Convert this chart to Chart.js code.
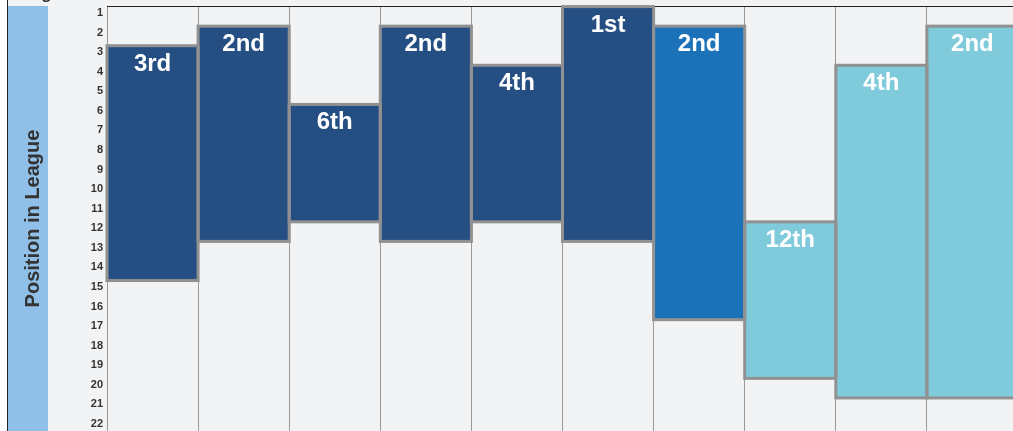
<!DOCTYPE html>
<html>
<head>
<meta charset="utf-8">
<script src="https://cdn.jsdelivr.net/npm/chart.js@4.4.1/dist/chart.umd.min.js"></script>
<style>
  html, body { margin: 0; padding: 0; background: #f2f3f5; overflow: hidden; }
  #wrap { position: relative; width: 1013px; height: 431px; overflow: hidden; }
  #chartBox { position: absolute; left: 0; top: 0; width: 1018px; height: 431px; }
  #topText { position: absolute; left: 12px; top: -15px; font: bold 17px "Liberation Sans", Arial, sans-serif; line-height: 17px; color: #333; }
</style>
</head>
<body>
<div id="wrap">
  <div id="chartBox"><canvas id="myChart"></canvas></div>
  <div id="topText">League</div>
</div>
<script>
'use strict';

// ****Data****
let seasons = ['Season 1', 'Season 2', 'Season 3', 'Season 4', 'Season 5', 'Season 6', 'Season 7', 'Season 8', 'Season 9', 'Season 10'];
let bestPos = [2.67, 1.67, 5.67, 1.67, 3.67, 0.67, 1.67, 11.67, 3.67, 1.67];
let worstPos = [14.67, 12.67, 11.67, 12.67, 11.67, 12.67, 16.67, 19.67, 20.67, 20.67];
let finishLabels = ['3rd', '2nd', '6th', '2nd', '4th', '1st', '2nd', '12th', '4th', '2nd'];
let barColors = ['#254f82', '#254f82', '#254f82', '#254f82', '#254f82', '#254f82', '#1c72b9', '#80cbdb', '#80cbdb', '#80cbdb'];
let yTicks = [1, 2, 3, 4, 5, 6, 7, 8, 9, 10, 11, 12, 13, 14, 15, 16, 17, 18, 19, 20, 21, 22];

let ranges = [];
for (let i = 0; i < seasons.length; i++) {
  ranges.push([bestPos[i], worstPos[i]]);
}

// ****Plugins****
// band + frame lines behind everything
const backdrop = {
  id: 'backdrop',
  beforeDraw(chart) {
    const c = chart.ctx;
    const area = chart.chartArea;
    c.save();
    c.fillStyle = '#ffffff';
    c.fillRect(0, 0, 7, chart.height);
    c.fillStyle = '#90c0e8';
    c.fillRect(8, area.top, 40, chart.height - area.top);
    c.strokeStyle = '#222';
    c.lineWidth = 1;
    c.beginPath();
    c.moveTo(7.5, 0);
    c.lineTo(7.5, chart.height);
    c.stroke();
    c.restore();
  },
  beforeDatasetsDraw(chart) {
    const c = chart.ctx;
    const area = chart.chartArea;
    c.save();
    c.strokeStyle = '#222';
    c.lineWidth = 1;
    c.beginPath();
    c.moveTo(area.left, area.top + 0.5);
    c.lineTo(area.right, area.top + 0.5);
    c.stroke();
    c.restore();
  }
};

// centred borders + the finish label at the top of each bar
const barDecor = {
  id: 'barDecor',
  afterDatasetsDraw(chart) {
    const c = chart.ctx;
    const meta = chart.getDatasetMeta(0);
    c.save();
    c.strokeStyle = '#919191';
    c.lineWidth = 3;
    meta.data.forEach((bar) => {
      const top = Math.min(bar.y, bar.base);
      const bottom = Math.max(bar.y, bar.base);
      c.strokeRect(bar.x - bar.width / 2, top, bar.width, bottom - top);
    });
    c.fillStyle = '#ffffff';
    c.font = 'bold 24px "Liberation Sans", Arial, sans-serif';
    c.textAlign = 'center';
    c.textBaseline = 'alphabetic';
    meta.data.forEach((bar, i) => {
      const top = Math.min(bar.y, bar.base);
      c.fillText(finishLabels[i], bar.x, top + 25);
    });
    c.restore();
  }
};

const ctx = document.getElementById('myChart').getContext('2d');

const myChart = new Chart(ctx, {
  type: 'bar',
  data: {
    labels: seasons,
    datasets: [{
      label: 'Position in League',
      data: ranges,
      backgroundColor: barColors,
      borderWidth: 0,
      barPercentage: 1,
      categoryPercentage: 1
    }]
  },
  options: {
    responsive: true,
    maintainAspectRatio: false,
    animation: false,
    layout: { padding: { top: 6, left: 0, right: 0, bottom: 0 } },
    plugins: {
      legend: { display: false },
      tooltip: { enabled: false }
    },
    scales: {
      x: {
        ticks: { display: false },
        grid: { color: '#999', lineWidth: 1, drawTicks: false, offset: true },
        border: { display: false },
        afterFit(scale) {
          scale.height = 0;
          scale.paddingLeft = 0;
          scale.paddingRight = 0;
        }
      },
      y: {
        reverse: true,
        min: 0.64,
        max: 22.36,
        afterBuildTicks(scale) {
          scale.ticks = yTicks.map((v) => ({ value: v }));
        },
        afterFit(scale) {
          scale.width = 107;
          scale.paddingTop = 0;
          scale.paddingBottom = 0;
        },
        ticks: {
          autoSkip: false,
          padding: 4,
          color: '#333',
          font: { family: '"Liberation Sans", Arial, sans-serif', size: 11, weight: 'bold' }
        },
        grid: { display: false, drawTicks: false },
        border: { display: false },
        title: {
          display: true,
          text: 'Position in League',
          color: '#333',
          padding: { top: 21, bottom: 0 },
          font: { family: '"Liberation Sans", Arial, sans-serif', size: 20, weight: 'bold' }
        }
      }
    }
  },
  plugins: [backdrop, barDecor]
});
</script>
</body>
</html>
